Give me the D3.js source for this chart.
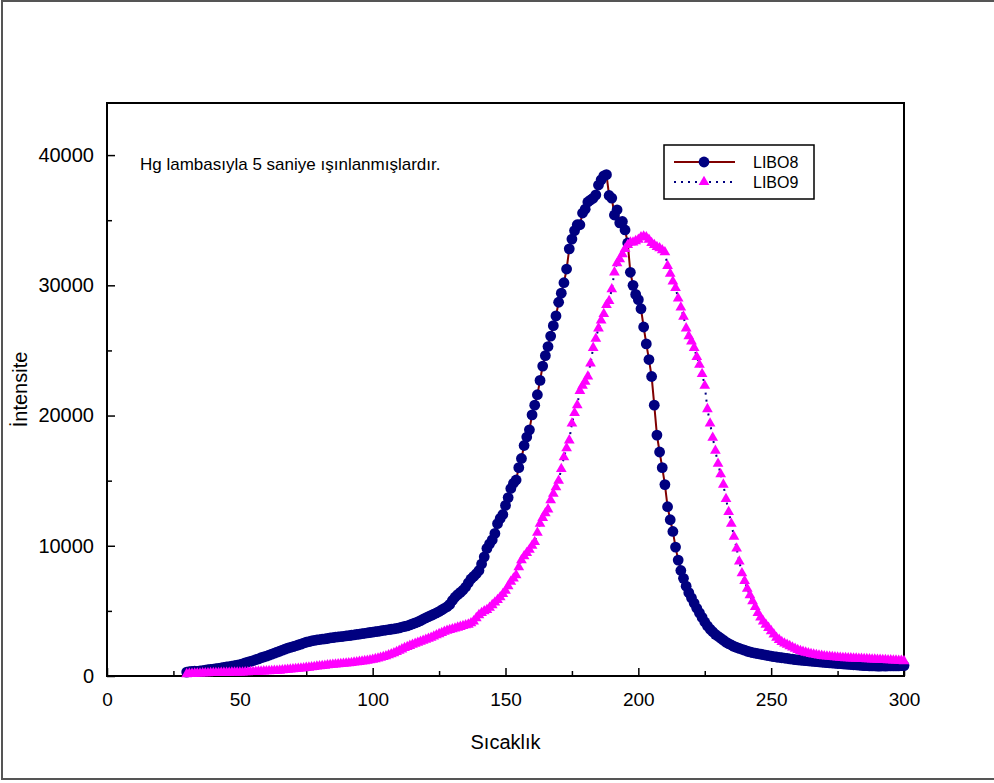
<!DOCTYPE html>
<html>
<head>
<meta charset="utf-8">
<script src="https://cdn.jsdelivr.net/npm/d3@7"></script>
<style>
  html, body { margin: 0; padding: 0; background: #fff; }
  svg { display: block; font-family: "Liberation Sans", Arial, sans-serif; }
</style>
</head>
<body>
<svg id="chart" width="994" height="783"></svg>
<script>
// Glow curve readings, one value per degree from 30 to 300
const temperatures = d3.range(30, 301, 1);

const libo8 = [
  300, 330, 350, 370, 360, 390, 420, 450, 480, 500,
  530, 560, 590, 620, 660, 700, 720, 750, 790, 830,
  880, 930, 1000, 1060, 1120, 1180, 1250, 1320, 1400, 1460,
  1520, 1600, 1680, 1750, 1830, 1900, 1980, 2060, 2140, 2200,
  2260, 2320, 2380, 2450, 2530, 2590, 2640, 2690, 2730, 2770,
  2800, 2830, 2850, 2880, 2920, 2950, 2980, 3000, 3020, 3050,
  3080, 3100, 3130, 3160, 3190, 3220, 3250, 3280, 3310, 3340,
  3370, 3400, 3430, 3460, 3500, 3530, 3560, 3590, 3620, 3660,
  3690, 3760, 3800, 3850, 3920, 4000, 4080, 4150, 4250, 4360,
  4460, 4560, 4660, 4750, 4840, 4950, 5080, 5200, 5320, 5500,
  5800, 6050, 6250, 6420, 6600, 6830, 7150, 7450, 7650, 7850,
  8100, 8600, 9150, 9800, 10150, 10450, 10950, 11700, 12100, 12400,
  13100, 13700, 14400, 14800, 15050, 16000, 16700, 17700, 18350, 18900,
  20050, 20800, 21600, 22700, 23800, 24600, 25300, 26100, 26900, 27650,
  28700, 29400, 30200, 31250, 32800, 33550, 34200, 34650, 34650, 35550,
  35850, 36400, 36550, 36700, 36950, 37700, 38100, 38400, 38500, 36900,
  36700, 35400, 35800, 34800, 34900, 34250, 33250, 31000, 30000, 29300,
  28900, 28200, 26800, 25500, 24300, 23000, 20800, 18500, 17200, 16000,
  14700, 13000, 12000, 11100, 9900, 8900, 8100, 7500, 6900, 6400,
  6000, 5600, 5200, 4850, 4500, 4150, 3850, 3600, 3400, 3200,
  3050, 2900, 2750, 2600, 2480, 2380, 2280, 2200, 2120, 2050,
  1980, 1900, 1850, 1800, 1760, 1720, 1680, 1640, 1600, 1560,
  1520, 1490, 1460, 1430, 1400, 1380, 1350, 1320, 1290, 1260,
  1240, 1220, 1200, 1180, 1160, 1140, 1120, 1100, 1080, 1060,
  1040, 1020, 1010, 1000, 980, 960, 950, 930, 910, 900,
  880, 860, 850, 830, 820, 800, 790, 780, 770, 770,
  760, 760, 770, 760, 770, 770, 770, 780, 780, 790,
  800
];

const libo9 = [
  150, 170, 180, 190, 200, 200, 210, 220, 220, 230,
  230, 240, 240, 250, 250, 260, 260, 270, 270, 280,
  280, 280, 290, 300, 310, 320, 330, 340, 350, 360,
  370, 380, 390, 400, 410, 420, 440, 460, 480, 500,
  520, 540, 560, 580, 600, 630, 650, 680, 700, 730,
  750, 780, 800, 830, 850, 870, 890, 910, 930, 950,
  970, 990, 1010, 1040, 1060, 1090, 1120, 1150, 1180, 1220,
  1260, 1300, 1350, 1400, 1460, 1520, 1600, 1680, 1760, 1850,
  1950, 2050, 2150, 2240, 2320, 2400, 2480, 2560, 2630, 2710,
  2790, 2870, 2950, 3040, 3130, 3220, 3310, 3400, 3480, 3540,
  3600, 3660, 3720, 3780, 3840, 3900, 3950, 4050, 4200, 4450,
  4680, 4850, 4980, 5080, 5250, 5450, 5650, 5840, 6050, 6300,
  6550, 6900, 7250, 7500, 7750, 8350, 8900, 9200, 9450, 9700,
  10000, 10300, 11000, 11700, 12150, 12500, 12800, 13500, 14000, 14500,
  15000, 15900, 16800, 17500, 18100, 19400, 20200, 20800, 21900, 22300,
  22600, 23000, 24000, 25200, 25900, 26700, 27300, 27800, 28500, 28800,
  29700, 31000, 31700, 32000, 32400, 32800, 33100, 33300, 33300, 33400,
  33500, 33700, 33750, 33700, 33500, 33250, 33100, 32950, 32850, 32700,
  32550, 31500, 30900, 30300, 29800, 29000, 28300, 27600, 26700, 26100,
  25700, 25200, 24500, 23900, 23200, 22300, 20500, 19400, 18300, 17300,
  16300, 15500, 14700, 13600, 12600, 11700, 10700, 9800, 8800, 7900,
  7300, 6700, 6200, 5750, 5300, 4850, 4500, 4200, 3950, 3700,
  3450, 3200, 2950, 2780, 2620, 2500, 2400, 2300, 2200, 2100,
  2000, 1920, 1860, 1800, 1750, 1700, 1660, 1620, 1580, 1550,
  1520, 1500, 1480, 1460, 1440, 1420, 1400, 1390, 1380, 1370,
  1360, 1350, 1340, 1330, 1320, 1310, 1300, 1290, 1280, 1270,
  1260, 1250, 1240, 1230, 1220, 1210, 1200, 1190, 1180, 1170,
  1150
];

const xTicks = [0, 50, 100, 150, 200, 250, 300];
const xMinorTicks = [25, 75, 125, 175, 225, 275];
const yTicks = [0, 10000, 20000, 30000, 40000];
const yMinorTicks = [5000, 15000, 25000, 35000];

const seriesNames = ["LIBO8", "LIBO9"];
const xTitle = "Sıcaklık";
const yTitle = "İntensite";
const note = "Hg lambasıyla 5 saniye ışınlanmışlardır.";

const svg = d3.select("#chart");
const plot = { left: 107, right: 904, top: 103, bottom: 676 };

const x = d3.scaleLinear().domain([0, 300]).range([plot.left, plot.right]);
const y = d3.scaleLinear().domain([0, 44000]).range([plot.bottom, plot.top]);

// Outer page frame
svg.append("rect")
  .attr("x", 2).attr("y", 1).attr("width", 1000).attr("height", 778)
  .attr("fill", "none").attr("stroke", "#555").attr("stroke-width", 2);

// Axes with inward ticks
const xAxis = svg.append("g")
  .attr("transform", `translate(0,${plot.bottom})`)
  .call(d3.axisBottom(x).tickValues(xTicks).tickSize(-8).tickPadding(17).tickFormat(d3.format("d")));
const xMinor = svg.append("g")
  .attr("transform", `translate(0,${plot.bottom})`)
  .call(d3.axisBottom(x).tickValues(xMinorTicks).tickSize(-5).tickFormat(""));
const yAxis = svg.append("g")
  .attr("transform", `translate(${plot.left},0)`)
  .call(d3.axisLeft(y).tickValues(yTicks).tickSize(-8).tickPadding(13).tickFormat(d3.format("d")));
const yMinor = svg.append("g")
  .attr("transform", `translate(${plot.left},0)`)
  .call(d3.axisLeft(y).tickValues(yMinorTicks).tickSize(-5).tickFormat(""));

[xAxis, xMinor, yAxis, yMinor].forEach(g => {
  g.select(".domain").remove();
  g.selectAll(".tick line").attr("stroke", "#000").attr("stroke-width", 1.5);
  g.selectAll(".tick text").attr("fill", "#000")
    .attr("font-family", "Liberation Sans, Arial, sans-serif");
});
xAxis.selectAll(".tick text").attr("font-size", 19);
yAxis.selectAll(".tick text").attr("font-size", 20);

// Plot frame
svg.append("rect")
  .attr("x", plot.left).attr("y", plot.top)
  .attr("width", plot.right - plot.left).attr("height", plot.bottom - plot.top)
  .attr("fill", "none").attr("stroke", "#000").attr("stroke-width", 2);

// Axis titles
svg.append("text")
  .attr("x", (plot.left + plot.right) / 2).attr("y", 749)
  .attr("text-anchor", "middle").attr("font-size", 20)
  .text(xTitle);
svg.append("text")
  .attr("transform", `translate(27,${(plot.top + plot.bottom) / 2}) rotate(-90)`)
  .attr("text-anchor", "middle").attr("font-size", 20)
  .text(yTitle);

// Note inside the plot
svg.append("text")
  .attr("x", 140).attr("y", 170)
  .attr("font-size", 17)
  .text(note);

const data8 = temperatures.map((t, i) => ({ t, v: libo8[i] }));
const data9 = temperatures.map((t, i) => ({ t, v: libo9[i] }));
const line = d3.line().x(d => x(d.t)).y(d => y(d.v));

const colors = {
  line8: "#800000", marker8: "#000080",
  line9: "#000080", marker9: "#ff00ff"
};
const triangle = d3.symbol().type(d3.symbolTriangle).size(50);

// LIBO8: solid dark red line with navy circles
svg.append("path").datum(data8)
  .attr("d", line).attr("fill", "none")
  .attr("stroke", colors.line8).attr("stroke-width", 2);
svg.append("g").selectAll("circle").data(data8).join("circle")
  .attr("cx", d => x(d.t)).attr("cy", d => y(d.v)).attr("r", 5.4)
  .attr("fill", colors.marker8);

// LIBO9: dotted navy line with magenta triangles
svg.append("path").datum(data9)
  .attr("d", line).attr("fill", "none")
  .attr("stroke", colors.line9).attr("stroke-width", 2)
  .attr("stroke-dasharray", "2,5");
svg.append("g").selectAll("path").data(data9).join("path")
  .attr("d", triangle)
  .attr("transform", d => `translate(${x(d.t)},${y(d.v)})`)
  .attr("fill", colors.marker9);

// Legend
const legend = svg.append("g");
legend.append("rect")
  .attr("x", 664).attr("y", 145).attr("width", 150).attr("height", 54)
  .attr("fill", "#fff").attr("stroke", "#000").attr("stroke-width", 1.5);
const rows = [
  { name: seriesNames[0], y: 162, stroke: colors.line8, dash: null, marker: "circle", fill: colors.marker8 },
  { name: seriesNames[1], y: 182, stroke: colors.line9, dash: "2,5", marker: "triangle", fill: colors.marker9 }
];
rows.forEach(r => {
  legend.append("line")
    .attr("x1", 674).attr("x2", 735).attr("y1", r.y).attr("y2", r.y)
    .attr("stroke", r.stroke).attr("stroke-width", 2)
    .attr("stroke-dasharray", r.dash);
  if (r.marker === "circle") {
    legend.append("circle").attr("cx", 704).attr("cy", r.y).attr("r", 5.4).attr("fill", r.fill);
  } else {
    legend.append("path").attr("d", triangle)
      .attr("transform", `translate(704,${r.y})`).attr("fill", r.fill);
  }
  legend.append("text")
    .attr("x", 753).attr("y", r.y + 5.5).attr("font-size", 16)
    .text(r.name);
});
</script>
</body>
</html>
